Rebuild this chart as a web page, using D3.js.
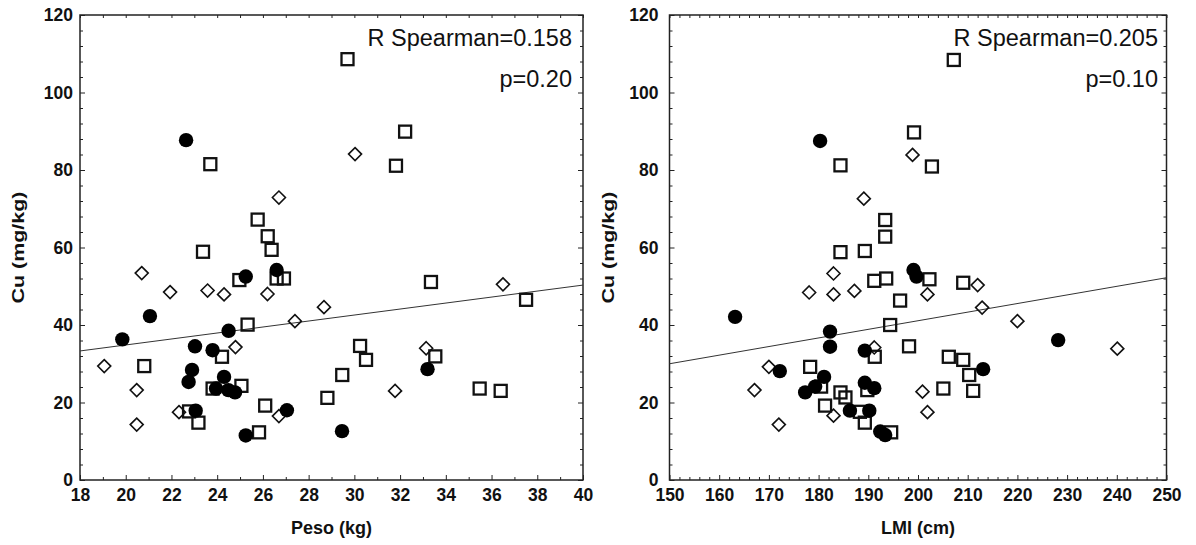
<!DOCTYPE html>
<html>
<head>
<meta charset="utf-8">
<script src="https://cdn.jsdelivr.net/npm/d3@7"></script>
<style>
  body { margin: 0; background: #fff; }
  svg { display: block; }
  text { font-family: "Liberation Sans", Arial, sans-serif; }
</style>
</head>
<body>
<div id="chart"></div>
<script>
// ---- data ----
// left panel: Peso (kg) vs Cu (mg/kg)
var pesoCircles = [[22.64,87.7],[26.6,54.2],[25.25,52.5],[21.06,42.3],[24.5,38.5],[19.85,36.3],
  [23.03,34.5],[23.8,33.5],[22.9,28.4],[22.75,25.3],[24.3,26.6],[24.49,23.2],[24.78,22.6],
  [23.95,23.6],[27.05,18],[23.06,17.9],[25.25,11.5],[29.46,12.6],[33.2,28.6]];
var pesoSquares = [[23.7,81.5],[25.77,67.2],[26.21,62.9],[23.38,58.9],[26.38,59.4],[29.7,108.6],
  [32.22,89.9],[31.82,81.1],[26.6,52],[26.92,52],[24.97,51.6],[25.33,40.1],[24.21,31.8],
  [20.81,29.4],[25.06,24.3],[23.8,23.6],[26.1,19.2],[22.77,17.7],[23.18,14.8],[25.83,12.3],
  [28.82,21.2],[29.47,27.1],[33.35,51.1],[37.51,46.5],[30.25,34.6],[30.51,31],[33.54,31.9],
  [35.48,23.6],[36.4,23]];
var pesoDiamonds = [[26.7,72.9],[30.03,84.1],[20.7,53.4],[21.94,48.5],[23.58,48.9],[24.3,47.9],
  [26.2,48],[28.67,44.6],[27.4,41],[24.8,34.3],[19.06,29.4],[20.48,23.2],[26.7,16.5],
  [22.33,17.5],[20.48,14.3],[36.5,50.5],[33.14,34],[31.78,23]];
var pesoFit = [[18,33.3],[40,50.3]];
var pesoStats = ["R Spearman=0.158", "p=0.20"];

// right panel: LMI (cm) vs Cu (mg/kg)
var lmiCircles = [[180.3,87.5],[199.1,54.2],[199.7,52.5],[163.2,42.1],[182.3,38.3],[182.3,34.4],
  [189.3,33.4],[172.2,28.1],[181.1,26.6],[179.3,24.1],[177.3,22.6],[189.3,25.1],[191.2,23.7],
  [186.3,17.9],[190.2,17.9],[192.4,12.5],[193.4,11.6],[228.2,36.1],[213.1,28.6]];
var lmiSquares = [[184.4,81.2],[199.2,89.7],[202.8,80.9],[193.4,67.1],[193.4,62.8],[184.4,58.8],
  [189.3,59.1],[207.2,108.4],[202.3,51.8],[191.2,51.4],[193.6,52],[196.4,46.3],[194.4,40],
  [198.2,34.5],[191.3,31.8],[178.3,29.2],[180.5,24.1],[189.8,23.2],[184.4,22.6],[185.4,21.3],
  [181.3,19.2],[188.3,17.6],[189.3,14.8],[194.6,12.3],[209.1,50.9],[206.2,31.8],[209.1,31],
  [210.3,27.1],[211.1,23],[205.1,23.6]];
var lmiDiamonds = [[198.9,83.9],[189.1,72.6],[183,53.3],[178.1,48.4],[183,47.9],[187.2,48.8],
  [201.9,47.9],[191.2,34.2],[170,29.2],[167.1,23.2],[183,16.6],[172,14.3],[200.9,22.8],
  [201.9,17.5],[212,50.3],[212.9,44.5],[220,41],[240.1,33.9]];
var lmiFit = [[150,30],[250,52.2]];
var lmiStats = ["R Spearman=0.205", "p=0.10"];

var yTicks = [0, 20, 40, 60, 80, 100, 120];
var yTitle = "Cu (mg/kg)";

var W = 1196, H = 545, plotTop = 15, plotBottom = 480;

var svg = d3.select("#chart").append("svg")
  .attr("width", W).attr("height", H);

var panels = [
  { left: 80, right: 583, xDomain: [18, 40], xTicks: d3.range(18, 41, 2), xMinorStep: 1,
    xTitle: "Peso (kg)", yTitleX: 24, yPad: 7, circles: pesoCircles, squares: pesoSquares,
    diamonds: pesoDiamonds, fit: pesoFit, stats: pesoStats, statsX: 572 },
  { left: 669.5, right: 1166.5, xDomain: [150, 250], xTicks: d3.range(150, 251, 10), xMinorStep: 2,
    xTitle: "LMI (cm)", yTitleX: 614, yPad: 11, circles: lmiCircles, squares: lmiSquares,
    diamonds: lmiDiamonds, fit: lmiFit, stats: lmiStats, statsX: 1158 }
];

panels.forEach(drawPanel);

function styleAxis(sel, labels) {
  sel.select(".domain").remove();
  sel.selectAll("line").attr("stroke", "#222").attr("stroke-width", 1);
  if (labels) {
    sel.attr("font-family", null).attr("font-size", null);
    sel.selectAll("text")
      .style("font-size", "17.5px")
      .style("font-weight", "bold")
      .attr("fill", "#111");
  }
}

function drawPanel(p) {
  var x = d3.scaleLinear().domain(p.xDomain).range([p.left, p.right]);
  var y = d3.scaleLinear().domain([0, 120]).range([plotBottom, plotTop]);
  var g = svg.append("g");

  var xMinor = d3.range(p.xDomain[0], p.xDomain[1] + 0.001, p.xMinorStep)
    .filter(function (d) { return p.xTicks.indexOf(d) < 0; });
  var yMinor = d3.range(0, 121, 4).filter(function (d) { return d % 20 != 0; });

  // bottom axis with labels
  g.append("g").attr("transform", "translate(0," + plotBottom + ")")
    .call(d3.axisBottom(x).tickValues(p.xTicks).tickSizeInner(-5).tickSizeOuter(0)
      .tickPadding(9).tickFormat(d3.format("d")))
    .call(styleAxis, true);
  g.append("g").attr("transform", "translate(0," + plotBottom + ")")
    .call(d3.axisBottom(x).tickValues(xMinor).tickSize(-3).tickFormat(""))
    .call(styleAxis, false);
  // top axis
  g.append("g").attr("transform", "translate(0," + plotTop + ")")
    .call(d3.axisTop(x).tickValues(p.xTicks.concat(xMinor)).tickSize(-3).tickFormat(""))
    .call(styleAxis, false);

  // left axis with labels
  g.append("g").attr("transform", "translate(" + p.left + ",0)")
    .call(d3.axisLeft(y).tickValues(yTicks).tickSizeInner(-5).tickSizeOuter(0)
      .tickPadding(p.yPad).tickFormat(d3.format("d")))
    .call(styleAxis, true);
  g.append("g").attr("transform", "translate(" + p.left + ",0)")
    .call(d3.axisLeft(y).tickValues(yMinor).tickSize(-3).tickFormat(""))
    .call(styleAxis, false);
  // right axis
  g.append("g").attr("transform", "translate(" + p.right + ",0)")
    .call(d3.axisRight(y).tickValues(yTicks).tickSize(-5).tickFormat(""))
    .call(styleAxis, false);
  g.append("g").attr("transform", "translate(" + p.right + ",0)")
    .call(d3.axisRight(y).tickValues(yMinor).tickSize(-3).tickFormat(""))
    .call(styleAxis, false);

  // frame
  g.append("rect")
    .attr("x", p.left).attr("y", plotTop)
    .attr("width", p.right - p.left).attr("height", plotBottom - plotTop)
    .attr("fill", "none").attr("stroke", "#222").attr("stroke-width", 1.5);

  // regression line
  g.append("path")
    .datum(p.fit)
    .attr("d", d3.line().x(function (d) { return x(d[0]); }).y(function (d) { return y(d[1]); }))
    .attr("fill", "none").attr("stroke", "#333").attr("stroke-width", 1);

  // squares
  g.selectAll(".sq").data(p.squares).enter().append("rect")
    .attr("class", "sq")
    .attr("x", function (d) { return x(d[0]) - 6; })
    .attr("y", function (d) { return y(d[1]) - 6; })
    .attr("width", 12).attr("height", 12)
    .attr("fill", "none").attr("stroke", "#111").attr("stroke-width", 2.3);

  // diamonds
  g.selectAll(".dm").data(p.diamonds).enter().append("path")
    .attr("class", "dm")
    .attr("transform", function (d) { return "translate(" + x(d[0]) + "," + y(d[1]) + ")"; })
    .attr("d", "M0,-6.5L6.5,0L0,6.5L-6.5,0Z")
    .attr("fill", "none").attr("stroke", "#111").attr("stroke-width", 1.6);

  // filled circles
  g.selectAll(".ci").data(p.circles).enter().append("circle")
    .attr("class", "ci")
    .attr("cx", function (d) { return x(d[0]); })
    .attr("cy", function (d) { return y(d[1]); })
    .attr("r", 7.2)
    .attr("fill", "#000");

  // stats
  g.selectAll(".stat").data(p.stats).enter().append("text")
    .attr("class", "stat")
    .attr("x", p.statsX)
    .attr("y", function (d, i) { return i == 0 ? 45.5 : 86.5; })
    .attr("text-anchor", "end")
    .style("font-size", "23.5px")
    .attr("fill", "#111")
    .text(function (d) { return d; });

  // axis titles
  g.append("text")
    .attr("x", (p.left + p.right) / 2).attr("y", 534)
    .attr("text-anchor", "middle")
    .style("font-size", "18px").style("font-weight", "bold")
    .attr("fill", "#111")
    .text(p.xTitle);
  g.append("text")
    .attr("transform", "translate(" + p.yTitleX + "," + ((plotTop + plotBottom) / 2) + ") rotate(-90)")
    .attr("text-anchor", "middle")
    .attr("textLength", 112)
    .attr("lengthAdjust", "spacingAndGlyphs")
    .style("font-size", "17px").style("font-weight", "bold")
    .attr("fill", "#111")
    .text(yTitle);
}
</script>
</body>
</html>
